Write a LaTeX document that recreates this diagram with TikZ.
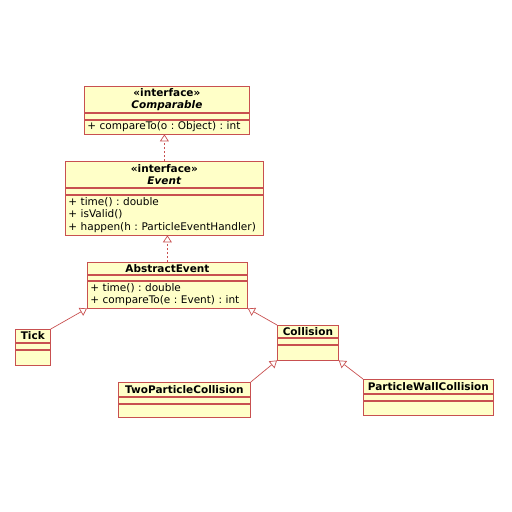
\documentclass[tikz,border=0pt]{standalone}
\usepackage{fontspec}
\setmainfont{DejaVu Sans}
\usepackage{xcolor}
\usepackage{tikz}
\usetikzlibrary{arrows.meta,positioning}

\definecolor{umlline}{HTML}{C85050}
\definecolor{umlfill}{HTML}{FFFFC8}

\tikzset{
  part/.style={draw=umlline,fill=umlfill,line width=0.8pt,inner sep=0pt,anchor=north west},
  ops/.style={part,align=left,inner xsep=3pt},
  gen/.style={draw=umlline,line width=0.7pt,-{Triangle[width=9pt,length=7pt,fill=white]}},
  real/.style={gen,dash pattern=on 2pt off 2pt}
}

\begin{document}
\frenchspacing
\begin{tikzpicture}[x=1pt,y=-1pt,font=\fontsize{10.5}{12.5}\selectfont]
  \useasboundingbox (0,0) rectangle (512,512);

  % Comparable
  \node[part,minimum width=165pt,minimum height=26pt,align=center] (cmpT) at (84,86)
    {\textbf{«interface»}\\\textbf{\textit{Comparable}}};
  \node[part,minimum width=165pt,minimum height=6pt,below=0pt of cmpT] (cmpA) {};
  \node[ops,minimum width=165pt,minimum height=14pt,text width=159pt,below=0pt of cmpA] (cmpO)
    {+ compareTo(o : Object) : int};

  % Event
  \node[part,minimum width=198pt,minimum height=26pt,align=center] (evT) at (65,161)
    {\textbf{«interface»}\\\textbf{\textit{Event}}};
  \node[part,minimum width=198pt,minimum height=6pt,below=0pt of evT] (evA) {};
  \node[ops,minimum width=198pt,minimum height=40pt,text width=192pt,below=0pt of evA] (evO)
    {+ time() : double\\+ isValid()\\+ happen(h : ParticleEventHandler)};

  % AbstractEvent
  \node[part,minimum width=160pt,minimum height=12pt,align=center] (aeT) at (87,262)
    {\textbf{AbstractEvent}};
  \node[part,minimum width=160pt,minimum height=5pt,below=0pt of aeT] (aeA) {};
  \node[ops,minimum width=160pt,minimum height=27pt,text width=154pt,below=0pt of aeA] (aeO)
    {+ time() : double\\+ compareTo(e : Event) : int};

  % Tick
  \node[part,minimum width=35pt,minimum height=13pt] (tickT) at (15,329) {\textbf{Tick}};
  \node[part,minimum width=35pt,minimum height=6pt,below=0pt of tickT] (tickA) {};
  \node[part,minimum width=35pt,minimum height=15pt,below=0pt of tickA] (tickO) {};

  % Collision
  \node[part,minimum width=61pt,minimum height=12pt] (colT) at (277,325) {\textbf{Collision}};
  \node[part,minimum width=61pt,minimum height=6pt,below=0pt of colT] (colA) {};
  \node[part,minimum width=61pt,minimum height=15pt,below=0pt of colA] (colO) {};

  % TwoParticleCollision
  \node[part,minimum width=132pt,minimum height=14pt] (twoT) at (118,382) {\textbf{TwoParticleCollision}};
  \node[part,minimum width=132pt,minimum height=6pt,below=0pt of twoT] (twoA) {};
  \node[part,minimum width=132pt,minimum height=13pt,below=0pt of twoA] (twoO) {};

  % ParticleWallCollision
  \node[part,minimum width=130pt,minimum height=14pt] (wallT) at (363,379) {\textbf{ParticleWallCollision}};
  \node[part,minimum width=130pt,minimum height=6pt,below=0pt of wallT] (wallA) {};
  \node[part,minimum width=130pt,minimum height=14pt,below=0pt of wallA] (wallO) {};

  % realizations
  \draw[real] (evT.north) -- (evT.north |- cmpO.south);
  \draw[real] (aeT.north) -- (aeT.north |- evO.south);

  % generalizations
  \draw[gen] (tickT.north east) -- (aeO.south west);
  \draw[gen] (colT.north west) -- (aeO.south east);
  \draw[gen] (twoT.north east) -- (colO.south west);
  \draw[gen] (wallT.north west) -- (colO.south east);
\end{tikzpicture}
\end{document}
